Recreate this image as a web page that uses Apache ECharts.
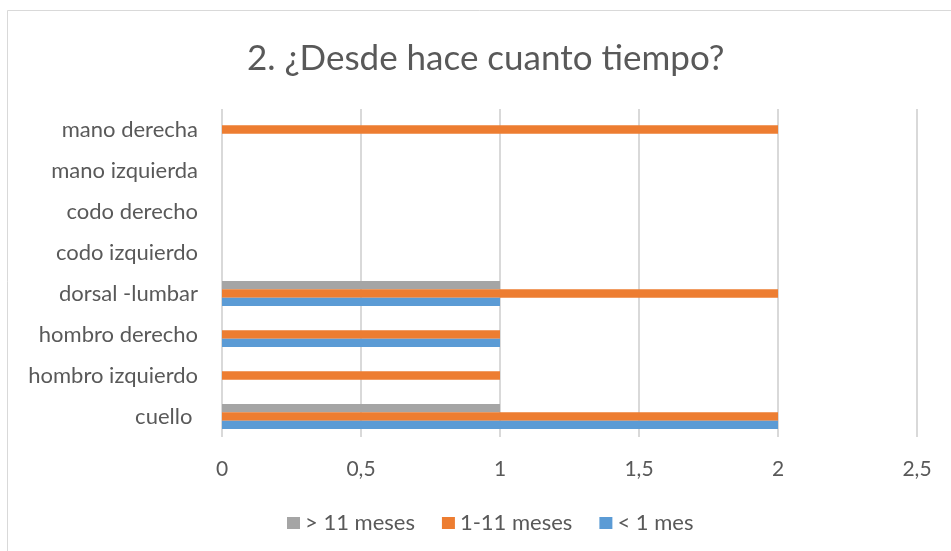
<!DOCTYPE html>
<html>
<head>
<meta charset="utf-8">
<script src="https://cdn.jsdelivr.net/npm/echarts@6/dist/echarts.min.js"></script>
<style>
  html, body { margin: 0; padding: 0; background: #fff; }
  #chart { width: 951px; height: 551px; }
</style>
</head>
<body>
<div id="chart"></div>
<script>
// Body regions, bottom to top on the category axis
const categories = ['cuello ', 'hombro izquierdo', 'hombro derecho', 'dorsal -lumbar',
  'codo izquierdo', 'codo derecho', 'mano izquierda', 'mano derecha'];

// Answer counts per time bucket (null = no answers)
const menosDeUnMes = [2, null, 1, 1, null, null, null, null];
const unoAOnceMeses = [2, 1, 1, 2, null, null, null, 2];
const masDeOnceMeses = [1, null, null, 1, null, null, null, null];

const xTicks = { min: 0, max: 2.5, interval: 0.5 };
const legendOrder = ['> 11 meses', '1-11 meses', '< 1 mes'];

const textColor = '#595959';
const font = 'Lato, "Open Sans", sans-serif';

const chart = echarts.init(document.getElementById('chart'), null, { renderer: 'canvas' });

const barCommon = { type: 'bar', barGap: '0%', barCategoryGap: '39%' };

chart.setOption({
  animation: false,
  backgroundColor: '#ffffff',
  graphic: [{
    type: 'rect',
    shape: { x: 7.5, y: 10.5, width: 1000, height: 600 },
    style: { fill: 'none', stroke: '#d9d9d9', lineWidth: 1 },
    silent: true
  }],
  title: {
    text: '2. ¿Desde hace cuanto tiempo?',
    left: 242,
    top: 36,
    textStyle: { color: textColor, fontFamily: font, fontSize: 35, fontWeight: 'normal' }
  },
  legend: {
    data: legendOrder,
    top: 507,
    left: 282,
    itemWidth: 13,
    itemHeight: 12,
    itemGap: 27,
    icon: 'rect',
    textStyle: { color: textColor, fontFamily: font, fontSize: 22 }
  },
  grid: { left: 222, right: 34, top: 109, bottom: 114, containLabel: false },
  xAxis: {
    type: 'value',
    min: xTicks.min,
    max: xTicks.max,
    interval: xTicks.interval,
    axisLine: { show: false },
    axisTick: { show: false },
    splitLine: { show: true, lineStyle: { color: '#d9d9d9', width: 2 } },
    axisLabel: {
      color: textColor, fontFamily: font, fontSize: 21, margin: 22,
      formatter: v => String(v).replace('.', ',')
    }
  },
  yAxis: {
    type: 'category',
    data: categories,
    axisLine: { show: false },
    axisTick: { show: false },
    splitLine: { show: false },
    axisLabel: { color: textColor, fontFamily: font, fontSize: 22, margin: 24 }
  },
  series: [
    Object.assign({ name: '> 11 meses', data: masDeOnceMeses, itemStyle: { color: '#a5a5a5' } }, barCommon),
    Object.assign({ name: '1-11 meses', data: unoAOnceMeses, itemStyle: { color: '#ed7d31' } }, barCommon),
    Object.assign({ name: '< 1 mes', data: menosDeUnMes, itemStyle: { color: '#5b9bd5' } }, barCommon)
  ]
});
</script>
</body>
</html>
